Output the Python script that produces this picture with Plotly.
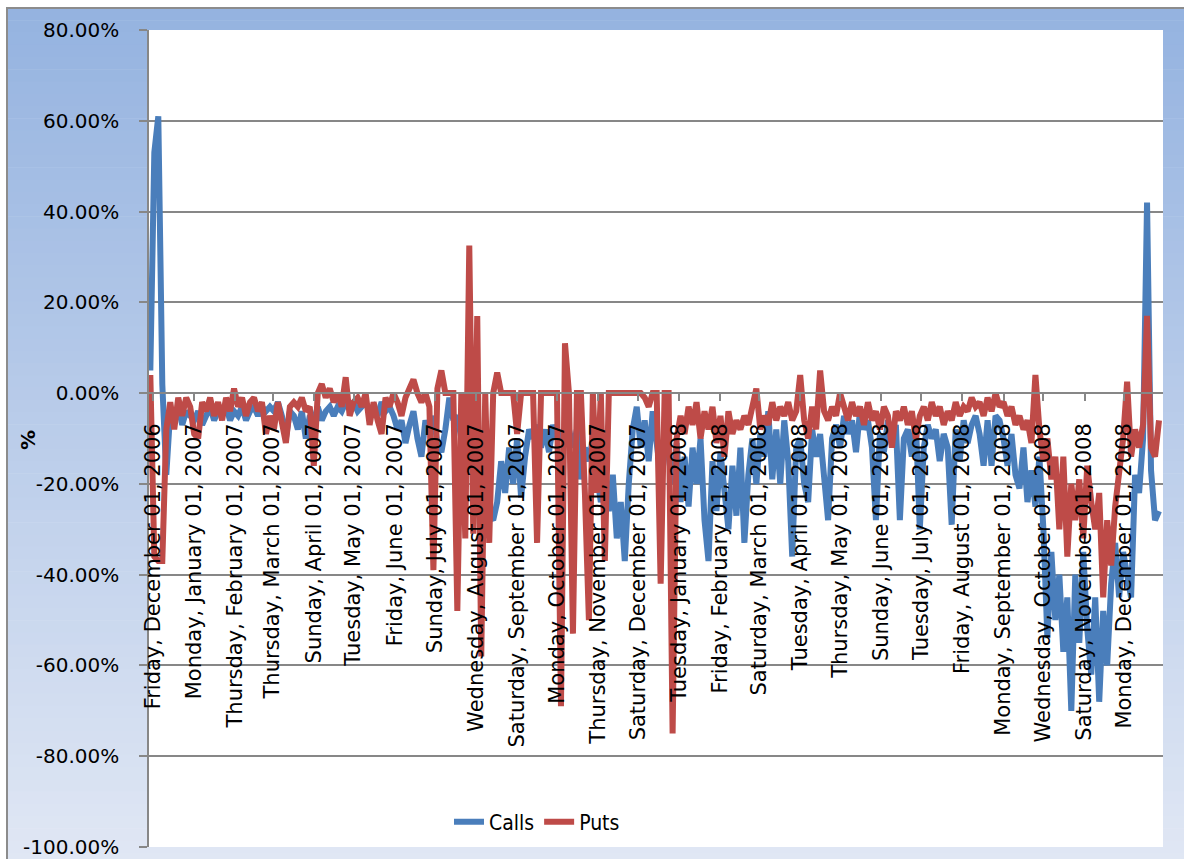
import pandas as pd
import plotly.graph_objects as go

# Daily option-price changes (%) sampled every third calendar day
start_date = "2006-11-29"
step_days = 3

calls = [
    5, 53, 61, 2, -18, -4, -6, -3, -7, -4,
    -5, -6, -4, -7, -5, -3, -6, -4, -5, -3,
    -6, -4, -5, -3, -6, -4, -3, -5, -3, -4,
    -3, -4, -2, -5, -10, -4, -5, -8, -4, -10,
    -5, -6, -3, -6, -4, -3, -5, -3, -4, -2,
    -3, -2, -4, -3, -2, -4, -3, -5, -2, -4,
    -3, -5, -8, -6, -11, -7, -4, -10, -14, -6,
    -9, -5, -11, -13, -8, -1, -6, -5, -10, -12,
    -8, -17, -15, -20, -24, -27, -28, -24, -15, -22,
    -12, -20, -10, -23, -14, -8, -10, -7, -12, -8,
    -13, -7, -10, -9, -11, -8, -12, -8, -19, -12,
    -15, -10, -18, -24, -20, -26, -18, -32, -24, -37,
    -20, -8, -3, -12, -6, -15, -4, -12, -18, -10,
    -14, -20, -11, -24, -14, -25, -12, -20, -10, -28,
    -37, -15, -26, -13, -22, -30, -16, -27, -12, -33,
    -18, -10, -20, -9, -14, -4, -19, -8, -20, -6,
    -15, -36, -12, -10, -20, -24, -8, -14, -9, -20,
    -28, -10, -7, -12, -5, -9, -6, -13, -4, -8,
    -6, -12, -28, -9, -13, -6, -11, -7, -28, -10,
    -8, -14, -6, -30, -12, -7, -10, -8, -15, -9,
    -12, -29, -8, -15, -6, -11, -7, -5, -9, -16,
    -6, -16, -5, -6, -10, -16, -9, -18, -21, -12,
    -24, -17, -25, -14, -30, -54, -35, -50, -40, -57,
    -45, -70, -40, -55, -35, -52, -62, -45, -68, -48,
    -60, -42, -33, -45, -35, -40, -45, -18, -22, -10,
    42, -17, -28, -26,
]

puts = [
    4, -36, -37, -37, -8, -2, -8, -1, -5, -1,
    -3, -9, -10, -2, -4, -1, -5, -2, -6, -1,
    -4, 1, -3, -1, -5, -2, -1, -4, -2, -9,
    -5, -8, -2, -6, -11, -3, -2, -3, -1, -4,
    -3, -16, 0, 2, -1, 1, -2, 0, -3, 3.5,
    -5, -2, -1, -3, 0, -7, -2, -6, -9, -1,
    -3, 0, -2, -5, -1, 1, 3, 0, -2, 0,
    -3, -39, 1, 5, 0, 0, 0, -48, 0, -32,
    32.5, -31, 17, -58, 0, -33, 0, 4.5, 0, 0,
    0, 0, -9, 0, 0, 0, 0, -33, 0, 0,
    0, 0, 0, -69, 11, 0, -53, 0, 0, -22,
    -50, 0, -22, 0, -37, 0, 0, 0, 0, 0,
    0, 0, 0, 0, -1, -3, 0, 0, -42, 0,
    0, -75, -10, -5, -9, -3, -7, -2, -10, -4,
    -8, -3, -11, -5, -14, -4, -9, -6, -8, -5,
    -7, -3, 1, -8, -5, -7, -2, -6, -3, -5,
    -2, -6, -4, 4, -6, -10, -3, -8, 5, -4,
    -6, -3, -5, 0, -3, -6, -2, -5, -3, -7,
    -2, -6, -4, -8, -3, -5, -12, -4, -6, -3,
    -7, -4, -10, -5, -3, -6, -2, -5, -3, -7,
    -4, -6, -2, -5, -3, -4, -1, -3, -2, -5,
    -1, -4, 0, -3, -2, -5, -3, -7, -5, -8,
    -6, -11, 4, -8, -15, -10, -19, -14, -30, -14,
    -36, -20, -28, -19, -32, -16, -24, -30, -22, -45,
    -28, -38, -25, -16, -10, 2.5, -14, -8, -12, -7,
    17, -12, -14, -6,
]

y_ticks = [-100, -80, -60, -40, -20, 0, 20, 40, 60, 80]
y_tick_labels = [f"{v:.2f}%" for v in y_ticks]

dates = pd.date_range(start_date, periods=len(calls), freq=f"{step_days}D")

# Figure geometry (pixels)
W, H = 1184, 859
L, R, T, B = 149, 21, 30, 12
PW, PH = W - L - R, H - T - B


def px(xp):
    return (xp - L) / PW


def py(yp):
    return (H - B - yp) / PH


# Vertical blue gradient for the chart area, drawn as thin bands
shapes = []
top_rgb = (149, 179, 224)
bot_rgb = (224, 231, 244)
y_start, y_end = 8, H + 6
n_bands = 70
for k in range(n_bands):
    t = k / (n_bands - 1)
    c = tuple(round(a + (b - a) * t) for a, b in zip(top_rgb, bot_rgb))
    y0 = y_start + (y_end - y_start) * k / n_bands
    y1 = y_start + (y_end - y_start) * (k + 1) / n_bands + 0.6
    shapes.append(dict(
        type="rect", xref="paper", yref="paper", layer="below",
        x0=px(7), x1=px(W + 10), y0=py(y1), y1=py(y0),
        fillcolor=f"rgb{c}", line=dict(width=0),
    ))
# chart-area border
shapes.append(dict(
    type="rect", xref="paper", yref="paper", layer="below",
    x0=px(7), x1=px(W + 10), y0=py(H + 10), y1=py(8),
    fillcolor="rgba(0,0,0,0)", line=dict(color="#8c8c8c", width=2),
))
# white plot area
shapes.append(dict(
    type="rect", xref="paper", yref="paper", layer="below",
    x0=0, x1=1, y0=0, y1=1, fillcolor="white", line=dict(width=0),
))

fig = go.Figure()
fig.add_trace(go.Scatter(
    x=dates, y=calls, name="Calls", mode="lines",
    line=dict(color="#4A7EBB", width=6),
))
fig.add_trace(go.Scatter(
    x=dates, y=puts, name="Puts", mode="lines",
    line=dict(color="#BE4B48", width=6),
))

grid = "#878787"
fig.update_layout(
    template="none",
    width=W, height=H, autosize=False,
    margin=dict(l=L, r=R, t=T, b=B, pad=0),
    paper_bgcolor="white", plot_bgcolor="white",
    font=dict(family="DejaVu Sans", color="black"),
    shapes=shapes,
    showlegend=True,
    legend=dict(
        orientation="h", x=px(449), y=py(822), xanchor="left", yanchor="middle",
        font=dict(family="Liberation Sans Narrow, DejaVu Sans Condensed, DejaVu Sans",
                  size=21, color="black"),
        bgcolor="rgba(0,0,0,0)", borderwidth=0,
    ),
    xaxis=dict(
        type="date",
        range=["2006-11-28", "2008-12-30"],
        anchor="free", position=100 / 180,
        showline=True, linecolor=grid, linewidth=1.5,
        ticks="outside", ticklen=7, tickwidth=1.5, tickcolor=grid,
        tick0="2006-12-01", dtick="M1",
        tickformat="%A, %B %d, %Y", tickangle=-90,
        ticklabelstandoff=14,
        tickfont=dict(family="DejaVu Sans", size=21, color="black"),
        showgrid=False, zeroline=False,
    ),
    yaxis=dict(
        range=[-100, 80],
        tickvals=y_ticks, ticktext=y_tick_labels,
        showgrid=True, gridcolor=grid, gridwidth=1.5,
        showline=True, linecolor=grid, linewidth=1.5,
        ticks="outside", ticklen=8, tickwidth=1.5, tickcolor=grid,
        ticklabelstandoff=16,
        tickfont=dict(family="DejaVu Sans", size=20, color="black"),
        zeroline=False,
    ),
    annotations=[dict(
        text="<b>%</b>", xref="paper", yref="paper",
        x=px(28), y=py(440), xanchor="center", yanchor="middle",
        showarrow=False, textangle=-90,
        font=dict(family="DejaVu Sans", size=20, color="black"),
    )],
)

fig.write_html("out.html")
